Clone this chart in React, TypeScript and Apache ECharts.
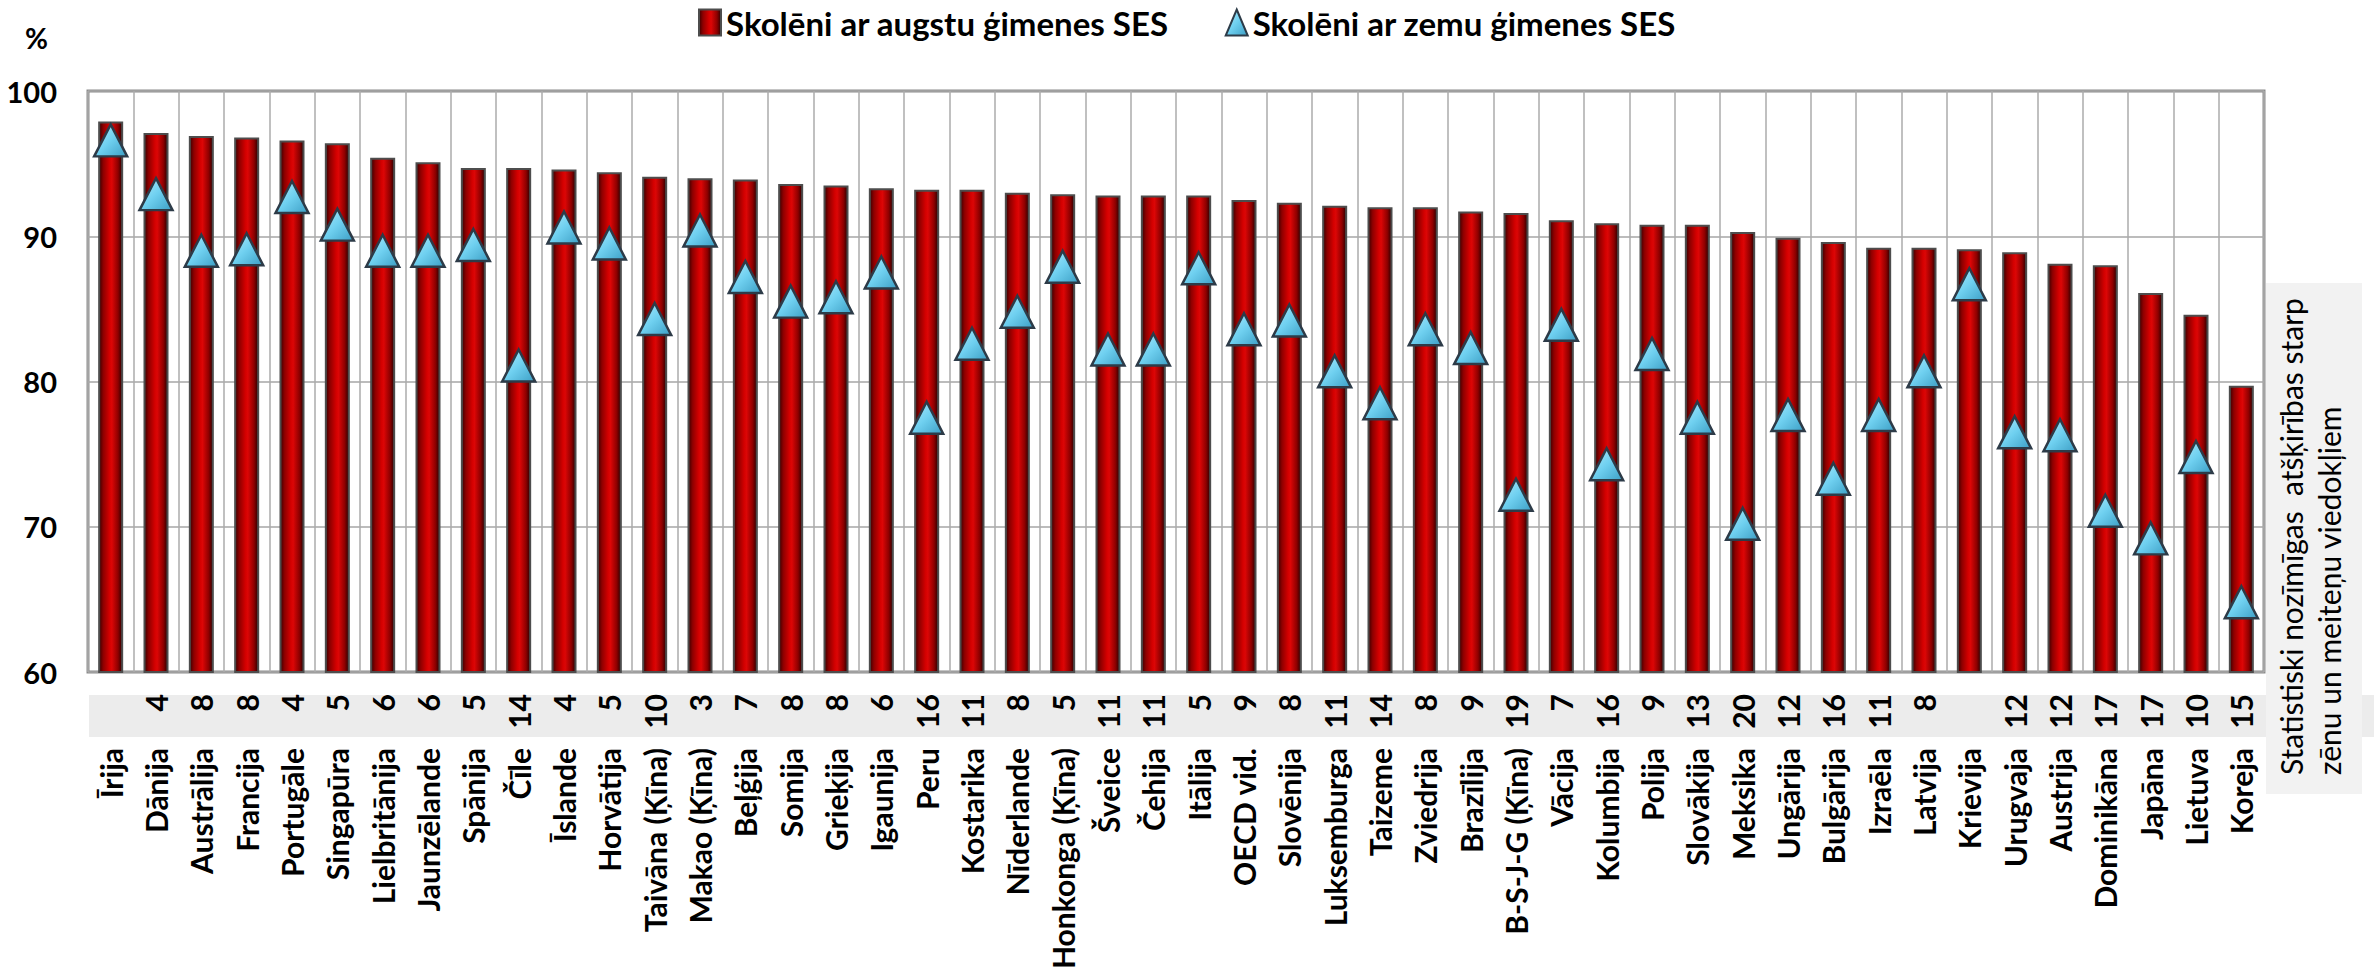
import React, { useEffect, useRef } from "react";
import * as echarts from "echarts";

const categories = [
  "Īrija", "Dānija", "Austrālija", "Francija", "Portugāle", "Singapūra", "Lielbritānija", "Jaunzēlande",
  "Spānija", "Čīle", "Īslande", "Horvātija", "Taivāna (Ķīna)", "Makao (Ķīna)", "Beļģija", "Somija",
  "Grieķija", "Igaunija", "Peru", "Kostarika", "Nīderlande", "Honkonga (Ķīna)", "Šveice", "Čehija",
  "Itālija", "OECD vid.", "Slovēnija", "Luksemburga", "Taizeme", "Zviedrija", "Brazīlija", "B-S-J-G (Ķīna)",
  "Vācija", "Kolumbija", "Polija", "Slovākija", "Meksika", "Ungārija", "Bulgārija", "Izraēla",
  "Latvija", "Krievija", "Urugvaja", "Austrija", "Dominikāna", "Japāna", "Lietuva", "Koreja",
];

const highSES = [
  97.9, 97.1, 96.9, 96.8, 96.6, 96.4, 95.4, 95.1, 94.7, 94.7, 94.6, 94.4,
  94.1, 94.0, 93.9, 93.6, 93.5, 93.3, 93.2, 93.2, 93.0, 92.9, 92.8, 92.8,
  92.8, 92.5, 92.3, 92.1, 92.0, 92.0, 91.7, 91.6, 91.1, 90.9, 90.8, 90.8,
  90.3, 89.9, 89.6, 89.2, 89.2, 89.1, 88.9, 88.1, 88.0, 86.1, 84.6, 79.7,
];

const lowSES = [
  96.6, 92.9, 89.0, 89.1, 92.7, 90.8, 89.0, 89.0, 89.4, 81.1, 90.6, 89.5,
  84.3, 90.4, 87.2, 85.5, 85.8, 87.5, 77.5, 82.6, 84.8, 87.9, 82.2, 82.2,
  87.8, 83.6, 84.2, 80.7, 78.5, 83.6, 82.3, 72.2, 83.9, 74.3, 81.9, 77.5,
  70.2, 77.7, 73.3, 77.7, 80.7, 86.7, 76.5, 76.3, 71.1, 69.2, 74.8, 64.8,
];

const sigDiff = [
  "", "4", "8", "8", "4", "5", "6", "6", "5", "14", "4", "5",
  "10", "3", "7", "8", "8", "6", "16", "11", "8", "5", "11", "11",
  "5", "9", "8", "11", "14", "8", "9", "19", "7", "16", "9", "13",
  "20", "12", "16", "11", "8", "", "12", "12", "17", "17", "10", "15",
];

const seriesHighName = "Skolēni ar augstu ģimenes SES";
const seriesLowName = "Skolēni ar zemu ģimenes SES";
const yMin = 60;
const yMax = 100;
const yStep = 10;
const yUnit = "%";
const noteLines = ["Statistiski nozīmīgas  atšķirības starp", "zēnu un meiteņu viedokļiem"];

const FONT = "Lato, 'Open Sans', 'DejaVu Sans', sans-serif";

export default function App() {
  const ref = useRef<HTMLDivElement>(null);

  useEffect(() => {
    document.body.style.margin = "0";
    if (!ref.current) return;
    const chart = echarts.init(ref.current, null, { renderer: "svg" });

    const barGradient = new echarts.graphic.LinearGradient(0, 0, 1, 0, [
      { offset: 0, color: "#3a0000" },
      { offset: 0.18, color: "#8e0000" },
      { offset: 0.45, color: "#d40000" },
      { offset: 0.55, color: "#dc0606" },
      { offset: 0.82, color: "#8e0000" },
      { offset: 1, color: "#2a0000" },
    ]);
    const triGradient = new echarts.graphic.LinearGradient(0, 0, 1, 1, [
      { offset: 0, color: "#b4ecfc" },
      { offset: 0.5, color: "#6fd0f0" },
      { offset: 1, color: "#3c9ec4" },
    ]);

    const option: any = {
      animation: false,
      backgroundColor: "#ffffff",
      textStyle: { fontFamily: FONT },
      legend: {
        top: 1,
        left: "center",
        itemGap: 56,
        itemWidth: 22,
        itemHeight: 26,
        textStyle: { fontSize: 33, fontWeight: "bold", color: "#000", fontFamily: FONT },
        data: [
          { name: seriesHighName, icon: "rect" },
          { name: seriesLowName, icon: "triangle" },
        ],
      },
      grid: {
        left: 88,
        right: 110,
        top: 91,
        bottom: 296,
        containLabel: false,
        outerBoundsMode: "none",
        show: true,
        borderColor: "#8c8c8c",
        borderWidth: 3,
        backgroundColor: "transparent",
      },
      xAxis: [
        {
          type: "category",
          data: categories,
          position: "bottom",
          axisLine: { show: false },
          axisTick: { show: false },
          splitLine: { show: true, interval: 0, lineStyle: { color: "#ababab", width: 1.5 } },
          axisLabel: {
            interval: 0,
            rotate: 90,
            margin: 76,
            fontSize: 30,
            fontWeight: "bold",
            color: "#000",
            fontFamily: FONT,
          },
        },
        {
          type: "category",
          data: categories,
          position: "bottom",
          axisLine: { show: false },
          axisTick: { show: false },
          splitLine: { show: false },
          axisLabel: {
            interval: 0,
            rotate: 90,
            margin: 22,
            fontSize: 30,
            fontWeight: "bold",
            color: "#000",
            fontFamily: FONT,
            formatter: (_v: string, i: number) => sigDiff[i],
          },
        },
      ],
      yAxis: {
        type: "value",
        min: yMin,
        max: yMax,
        interval: yStep,
        name: yUnit,
        nameLocation: "end",
        nameGap: 53,
        nameTextStyle: {
          fontSize: 28,
          fontWeight: "bold",
          color: "#000",
          fontFamily: FONT,
          align: "right",
          verticalAlign: "middle",
          padding: [0, 40, 0, 0],
        },
        axisLine: { show: false },
        axisTick: { show: false },
        splitLine: { show: true, lineStyle: { color: "#a6a6a6", width: 1.5 } },
        axisLabel: { margin: 31, fontSize: 29, fontWeight: "bold", color: "#000", fontFamily: FONT },
      },
      series: [
        {
          name: seriesHighName,
          type: "bar",
          xAxisIndex: 0,
          data: highSES,
          barWidth: 25,
          itemStyle: { color: barGradient, borderColor: "#4d4d4d", borderWidth: 2 },
        },
        {
          name: seriesLowName,
          type: "scatter",
          xAxisIndex: 0,
          data: lowSES,
          symbol: "triangle",
          symbolSize: [33, 32],
          z: 4,
          itemStyle: { color: triGradient, borderColor: "#2d3b48", borderWidth: 2.5, opacity: 1 },
        },
      ],
      graphic: [
        {
          type: "rect",
          z: -1,
          shape: { x: 89, y: 695, width: 2285, height: 42 },
          style: { fill: "#ececec" },
        },
        {
          type: "rect",
          z: 5,
          shape: { x: 2266, y: 283, width: 96, height: 511 },
          style: { fill: "#f2f2f2" },
        },
        {
          type: "text",
          z: 6,
          x: 2306,
          y: 775,
          rotation: Math.PI / 2,
          style: {
            text: noteLines[0],
            fontSize: 30,
            fontFamily: FONT,
            fill: "#000",
            align: "left",
            verticalAlign: "bottom",
          },
        },
        {
          type: "text",
          z: 6,
          x: 2344,
          y: 775,
          rotation: Math.PI / 2,
          style: {
            text: noteLines[1],
            fontSize: 30,
            fontFamily: FONT,
            fill: "#000",
            align: "left",
            verticalAlign: "bottom",
          },
        },
      ],
    };

    chart.setOption(option);
    return () => chart.dispose();
  }, []);

  return (
    <div
      ref={ref}
      style={{ position: "absolute", left: 0, top: 0, width: 2374, height: 968, background: "#fff" }}
    />
  );
}
